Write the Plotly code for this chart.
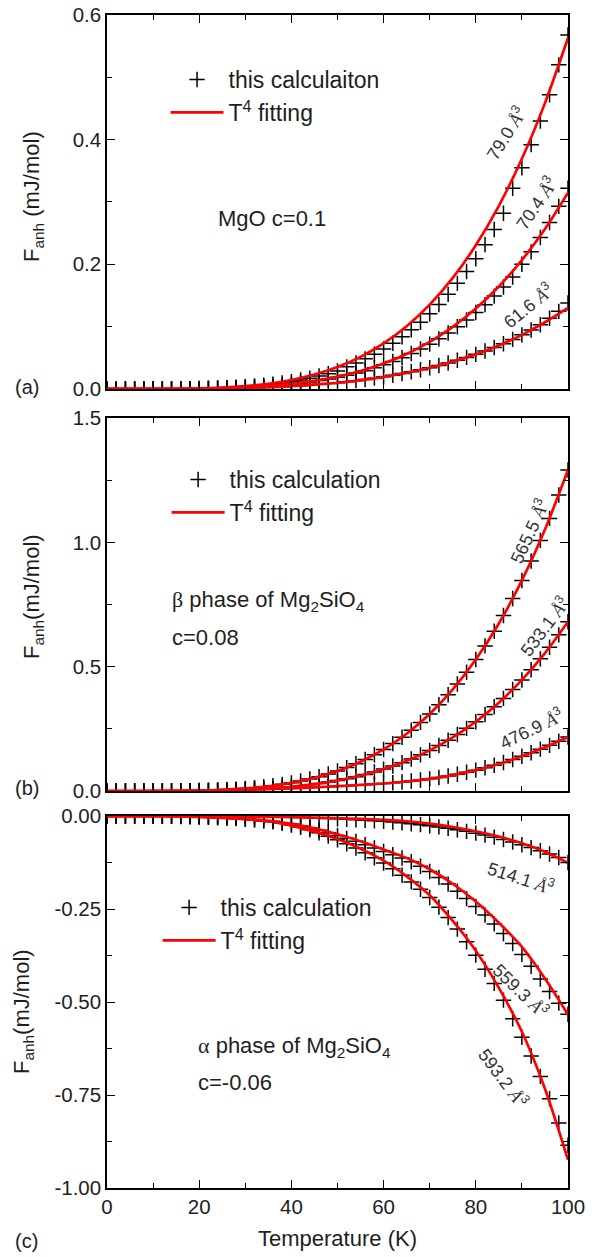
import plotly.graph_objects as go

# ---------------- data ----------------
temp_calc = [0, 2, 4, 6, 8, 10, 12, 14, 16, 18, 20, 22, 24, 26, 28, 30, 32, 34, 36, 38,
             40, 42, 44, 46, 48, 50, 52, 54, 56, 58, 60, 62, 64, 66, 68, 70, 72, 74, 76, 78,
             80, 82, 84, 86, 88, 90, 92, 94, 96, 98, 100]
temp_fit = [0, 5, 10, 15, 20, 25, 30, 35, 40, 45, 50, 55, 60, 65, 70, 75, 80, 85, 90, 95, 100]

# (a) MgO, c = 0.1
mgo_790_calc = [0, 0, 0, 0, 0, 0.0001, 0.0001, 0.0002, 0.0003, 0.0005, 0.0007, 0.0011, 0.0016, 0.0021,
                0.0029, 0.0038, 0.0048, 0.0062, 0.0078, 0.0096, 0.0118, 0.0144, 0.0173, 0.0207, 0.0245,
                0.0289, 0.0355, 0.0416, 0.0483, 0.0558, 0.0642, 0.0734, 0.0836, 0.0948, 0.1071, 0.1206,
                0.1356, 0.1518, 0.1694, 0.1885, 0.2090, 0.2315, 0.2558, 0.2820, 0.3220, 0.3550, 0.3920,
                0.4300, 0.4720, 0.5200, 0.5680]
mgo_790_fit = [0, 0, 0.0001, 0.0003, 0.0009, 0.0022, 0.0046, 0.0084, 0.0144, 0.0231, 0.0352, 0.0515,
               0.0730, 0.1005, 0.1352, 0.1781, 0.2306, 0.2939, 0.3694, 0.4586, 0.5630]
mgo_704_calc = [0, 0, 0, 0, 0, 0, 0.0001, 0.0001, 0.0002, 0.0003, 0.0005, 0.0007, 0.0010, 0.0014,
                0.0019, 0.0024, 0.0031, 0.0040, 0.0050, 0.0062, 0.0077, 0.0093, 0.0112, 0.0134, 0.0159,
                0.0187, 0.0219, 0.0254, 0.0294, 0.0339, 0.0388, 0.0442, 0.0502, 0.0568, 0.0640, 0.0719,
                0.0804, 0.0897, 0.0998, 0.1108, 0.1226, 0.1353, 0.1490, 0.1637, 0.1795, 0.2000, 0.2200,
                0.2430, 0.2670, 0.2930, 0.3220]
mgo_704_fit = [0, 0, 0, 0.0002, 0.0005, 0.0012, 0.0026, 0.0047, 0.0081, 0.0129, 0.0197, 0.0288,
               0.0408, 0.0562, 0.0756, 0.0997, 0.1290, 0.1644, 0.2067, 0.2566, 0.3150]
mgo_616_calc = [0, 0, 0, 0, 0, 0.0001, 0.0001, 0.0002, 0.0002, 0.0003, 0.0004, 0.0006, 0.0007, 0.0010,
                0.0012, 0.0015, 0.0019, 0.0024, 0.0030, 0.0036, 0.0044, 0.0053, 0.0063, 0.0074, 0.0086,
                0.0100, 0.0116, 0.0133, 0.0152, 0.0173, 0.0195, 0.0220, 0.0247, 0.0276, 0.0307, 0.0340,
                0.0377, 0.0417, 0.0460, 0.0506, 0.0555, 0.0608, 0.0665, 0.0726, 0.0795, 0.0868, 0.0946,
                0.1030, 0.1135, 0.1245, 0.1380]
mgo_616_fit = [0, 0, 0.0001, 0.0002, 0.0004, 0.0008, 0.0015, 0.0027, 0.0044, 0.0068, 0.0100, 0.0142,
               0.0195, 0.0260, 0.0340, 0.0438, 0.0555, 0.0697, 0.0868, 0.1070, 0.1300]

# (b) beta-Mg2SiO4, c = 0.08
beta_5655_calc = [0, 0, 0, 0, 0.0001, 0.0001, 0.0003, 0.0005, 0.0008, 0.0014, 0.0021, 0.0030, 0.0043,
                  0.0059, 0.0079, 0.0105, 0.0135, 0.0173, 0.0217, 0.0269, 0.0330, 0.0402, 0.0484, 0.0578,
                  0.0685, 0.0807, 0.0944, 0.1098, 0.1270, 0.1461, 0.1673, 0.1908, 0.2166, 0.2450, 0.2760,
                  0.3100, 0.3469, 0.3871, 0.4307, 0.4779, 0.5288, 0.5837, 0.6428, 0.7062, 0.7742, 0.8470,
                  0.9249, 1.0079, 1.0965, 1.1908, 1.2910]
beta_5655_fit = [0, 0, 0.0001, 0.0007, 0.0021, 0.0050, 0.0105, 0.0194, 0.0330, 0.0529, 0.0807, 0.1181,
                 0.1673, 0.2304, 0.3100, 0.4085, 0.5288, 0.6739, 0.8470, 1.0515, 1.2910]
beta_5331_calc = [0, 0, 0, 0, 0, 0.0001, 0.0001, 0.0003, 0.0004, 0.0007, 0.0011, 0.0016, 0.0023, 0.0031,
                  0.0042, 0.0055, 0.0071, 0.0091, 0.0114, 0.0142, 0.0174, 0.0212, 0.0255, 0.0305, 0.0362,
                  0.0426, 0.0498, 0.0579, 0.0670, 0.0771, 0.0883, 0.1006, 0.1143, 0.1292, 0.1456, 0.1635,
                  0.1830, 0.2042, 0.2272, 0.2521, 0.2789, 0.3079, 0.3391, 0.3725, 0.4084, 0.4468, 0.4879,
                  0.5317, 0.5784, 0.6281, 0.6810]
beta_5331_fit = [0, 0, 0.0001, 0.0003, 0.0011, 0.0027, 0.0055, 0.0102, 0.0174, 0.0279, 0.0426, 0.0623,
                 0.0883, 0.1216, 0.1635, 0.2155, 0.2789, 0.3555, 0.4468, 0.5547, 0.6810]
beta_4769_calc = [0, 0, 0.0001, 0.0002, 0.0003, 0.0004, 0.0006, 0.0008, 0.0011, 0.0015, 0.0020, 0.0026,
                  0.0032, 0.0039, 0.0046, 0.0055, 0.0065, 0.0075, 0.0086, 0.0098, 0.0110, 0.0125, 0.0141,
                  0.0159, 0.0177, 0.0195, 0.0215, 0.0235, 0.0257, 0.0280, 0.0305, 0.0335, 0.0367, 0.0404,
                  0.0445, 0.0490, 0.0546, 0.0608, 0.0676, 0.0755, 0.0840, 0.0935, 0.1037, 0.1148, 0.1270,
                  0.1400, 0.1540, 0.1685, 0.1838, 0.2000, 0.2175]
beta_4769_fit = [0, 0.0001, 0.0004, 0.0010, 0.0020, 0.0035, 0.0055, 0.0080, 0.0110, 0.0150, 0.0195,
                 0.0245, 0.0305, 0.0385, 0.0490, 0.0640, 0.0840, 0.1090, 0.1400, 0.1760, 0.2175]

# (c) alpha-Mg2SiO4, c = -0.06
alpha_5141_calc = [0, 0, 0, 0, 0, 0, -0.0001, -0.0001, -0.0002, -0.0003, -0.0005, -0.0006, -0.0008,
                   -0.0011, -0.0013, -0.0016, -0.0019, -0.0022, -0.0026, -0.0030, -0.0035, -0.0041,
                   -0.0048, -0.0056, -0.0065, -0.0075, -0.0086, -0.0098, -0.0112, -0.0127, -0.0143,
                   -0.0162, -0.0183, -0.0206, -0.0232, -0.0260, -0.0292, -0.0328, -0.0368, -0.0412,
                   -0.0460, -0.0512, -0.0568, -0.0630, -0.0698, -0.0770, -0.0848, -0.0932, -0.1020,
                   -0.1115, -0.1250]
alpha_5141_fit = [0, 0, 0, -0.0002, -0.0005, -0.0010, -0.0015, -0.0021, -0.0030, -0.0042, -0.0058,
                  -0.0078, -0.0104, -0.0140, -0.0205, -0.0295, -0.0410, -0.0555, -0.0730, -0.0960, -0.1260]
alpha_5593_calc = [0, 0, 0, -0.0001, -0.0002, -0.0003, -0.0005, -0.0008, -0.0012, -0.0018, -0.0025,
                   -0.0034, -0.0044, -0.0056, -0.0070, -0.0086, -0.0104, -0.0125, -0.0150, -0.0180,
                   -0.0215, -0.0260, -0.0315, -0.0380, -0.0450, -0.0525, -0.0600, -0.0680, -0.0770,
                   -0.0860, -0.0950, -0.1040, -0.1130, -0.1230, -0.1350, -0.1490, -0.1650, -0.1830,
                   -0.2020, -0.2220, -0.2430, -0.2660, -0.2900, -0.3160, -0.3430, -0.3720, -0.4040,
                   -0.4380, -0.4720, -0.5030, -0.5330]
alpha_5593_fit = [0, 0, -0.0003, -0.0010, -0.0025, -0.0050, -0.0085, -0.0135, -0.0205, -0.0330, -0.0490,
                  -0.0680, -0.0900, -0.1130, -0.1430, -0.1820, -0.2300, -0.2870, -0.3520, -0.4370, -0.5340]
alpha_5932_calc = [0, 0, 0, -0.0001, -0.0001, -0.0002, -0.0004, -0.0006, -0.0009, -0.0013, -0.0019,
                   -0.0026, -0.0034, -0.0044, -0.0056, -0.0072, -0.0092, -0.0118, -0.0150, -0.0190,
                   -0.0240, -0.0300, -0.0370, -0.0450, -0.0540, -0.0640, -0.0745, -0.0860, -0.0985,
                   -0.1120, -0.1265, -0.1420, -0.1590, -0.1770, -0.1970, -0.2190, -0.2450, -0.2730,
                   -0.3040, -0.3380, -0.3740, -0.4120, -0.4500, -0.4950, -0.5450, -0.5950, -0.6450,
                   -0.7000, -0.7600, -0.8250, -0.8850]
alpha_5932_fit = [0, 0, -0.0002, -0.0008, -0.0020, -0.0040, -0.0075, -0.0135, -0.0260, -0.0420, -0.0620,
                  -0.0880, -0.1200, -0.1620, -0.2130, -0.2820, -0.3620, -0.4620, -0.5800, -0.7330, -0.9240]

# ticks
x_ticks = [0, 20, 40, 60, 80, 100]
x_ticktext = ["0", "20", "40", "60", "80", "100"]
x_minor = [10, 30, 50, 70, 90]
ya_ticks = [0.0, 0.2, 0.4, 0.6]
ya_text = ["0.0", "0.2", "0.4", "0.6"]
ya_minor = [0.1, 0.3, 0.5]
yb_ticks = [0.0, 0.5, 1.0, 1.5]
yb_text = ["0.0", "0.5", "1.0", "1.5"]
yb_minor = [0.25, 0.75, 1.25]
yc_ticks = [-1.0, -0.75, -0.5, -0.25, 0.0]
yc_text = ["-1.00", "-0.75", "-0.50", "-0.25", "0.00"]
yc_minor = [-0.875, -0.625, -0.375, -0.125]

# ---------------- figure ----------------
FONT = "Liberation Sans, Arial, Helvetica, sans-serif"
TXT = "#1e1e1e"

fig = go.Figure()

panels = [
    ("x", "y", "legend", "this calculaiton",
     [mgo_790_calc, mgo_704_calc, mgo_616_calc], [mgo_790_fit, mgo_704_fit, mgo_616_fit]),
    ("x2", "y2", "legend2", "this calculation",
     [beta_5655_calc, beta_5331_calc, beta_4769_calc], [beta_5655_fit, beta_5331_fit, beta_4769_fit]),
    ("x3", "y3", "legend3", "this calculation",
     [alpha_5141_calc, alpha_5593_calc, alpha_5932_calc], [alpha_5141_fit, alpha_5593_fit, alpha_5932_fit]),
]

for xa, ya, lg, calc_name, calcs, fits in panels:
    for i, vals in enumerate(calcs):
        fig.add_trace(go.Scatter(
            x=temp_calc, y=vals, xaxis=xa, yaxis=ya, mode="markers",
            marker=dict(symbol="cross-thin", size=11, color="black",
                        line=dict(color="black", width=1.5)),
            name=calc_name, legend=lg, showlegend=(i == 0), legendrank=1))
    for i, vals in enumerate(fits):
        fig.add_trace(go.Scatter(
            x=temp_fit, y=vals, xaxis=xa, yaxis=ya, mode="lines",
            line=dict(color="#ff0000", width=2.7, shape="spline", smoothing=0.8),
            name="T<sup>4</sup> fitting", legend=lg, showlegend=(i == 0), legendrank=2))

# domains (paper fractions)
dom_a = [0.6812, 1.0]
dom_b = [0.3384, 0.6564]
dom_c = [0.0, 0.3171]
TICKSIZE = 20.5

def xaxis(anchor, show_labels):
    return dict(range=[0, 100], domain=[0, 1], anchor=anchor, automargin=False,
                showline=True, linecolor="black", linewidth=1.5, mirror="ticks",
                ticks="inside", ticklen=8, tickwidth=1.3, tickcolor="black",
                tickmode="array", tickvals=x_ticks, ticktext=x_ticktext,
                minor=dict(tickmode="array", tickvals=x_minor, ticks="inside",
                           ticklen=5, tickwidth=1.3, tickcolor="black"),
                showticklabels=show_labels, showgrid=False, zeroline=False,
                tickfont=dict(family=FONT, size=TICKSIZE, color=TXT))

def yaxis(anchor, dom, rng, tv, tt, mv):
    return dict(range=rng, domain=dom, anchor=anchor, automargin=False,
                showline=True, linecolor="black", linewidth=1.5, mirror="ticks",
                ticks="inside", ticklen=8, tickwidth=1.3, tickcolor="black",
                tickmode="array", tickvals=tv, ticktext=tt,
                minor=dict(tickmode="array", tickvals=mv, ticks="inside",
                           ticklen=5, tickwidth=1.3, tickcolor="black"),
                showgrid=False, zeroline=False,
                tickfont=dict(family=FONT, size=TICKSIZE, color=TXT))

xa3 = xaxis("y3", True)
xa3["title"] = dict(text="Temperature (K)", font=dict(family=FONT, size=22, color=TXT), standoff=13)

legend_common = dict(xanchor="left", yanchor="top", bgcolor="rgba(0,0,0,0)", borderwidth=0,
                     font=dict(family=FONT, size=23, color=TXT), itemwidth=53,
                     traceorder="normal", tracegroupgap=0)

fig.update_layout(
    width=597, height=1257,
    margin=dict(l=107, r=29, t=15, b=69, autoexpand=False),
    paper_bgcolor="white", plot_bgcolor="white",
    font=dict(family=FONT, size=20, color=TXT),
    xaxis=xaxis("y", False),
    xaxis2=xaxis("y2", False),
    xaxis3=xa3,
    yaxis=yaxis("x", dom_a, [0, 0.6], ya_ticks, ya_text, ya_minor),
    yaxis2=yaxis("x2", dom_b, [0, 1.5], yb_ticks, yb_text, yb_minor),
    yaxis3=yaxis("x3", dom_c, [-1.0, 0.0], yc_ticks, yc_text, yc_minor),
    legend=dict(x=0.127, y=0.9633, **legend_common),
    legend2=dict(x=0.1293, y=0.6223, **legend_common),
    legend3=dict(x=0.1098, y=0.2575, **legend_common),
    showlegend=True,
)

ann = []
def text(x, y, s, xref, yref, size=22, angle=0, xanchor="left", color=TXT):
    ann.append(dict(x=x, y=y, xref=xref, yref=yref, text=s, showarrow=False, textangle=angle,
                    xanchor=xanchor, yanchor="middle",
                    font=dict(family=FONT, size=size, color=color)))

# y-axis titles
text(-0.1605, 0.8448, "F<sub>anh</sub> (mJ/mol)", "paper", "paper", size=22, angle=-90, xanchor="center")
text(-0.1605, 0.5038, "F<sub>anh</sub>(mJ/mol)", "paper", "paper", size=22, angle=-90, xanchor="center")
text(-0.1822, 0.1500, "F<sub>anh</sub>(mJ/mol)", "paper", "paper", size=22, angle=-90, xanchor="center")

# panel letters
text(-0.1735, 0.6829, "(a)", "paper", "paper", size=20, xanchor="center")
text(-0.1735, 0.3410, "(b)", "paper", "paper", size=20, xanchor="center")
text(-0.1757, -0.0452, "(c)", "paper", "paper", size=20, xanchor="center")

# in-panel descriptions
text(23.6, 0.274, "MgO c=0.1", "x", "y")
text(13.7, 0.765, "<span style=\"font-family:'Liberation Serif'\">β</span> phase of Mg<sub>2</sub>SiO<sub>4</sub>", "x2", "y2")
text(13.7, 0.619, "c=0.08", "x2", "y2")
text(19.3, -0.622, "<span style=\"font-family:'Liberation Serif'\">α</span> phase of Mg<sub>2</sub>SiO<sub>4</sub>", "x3", "y3")
text(19.3, -0.716, "c=-0.06", "x3", "y3")

# volume labels
def vol(v):
    return v + " <span style=\"font-family:'Liberation Serif'\"><i>Å</i></span><sup>3</sup>"

LBL = "#333333"
text(86.5, 0.410, vol("79.0"), "x", "y", size=18, angle=-58, xanchor="center", color=LBL)
text(93.0, 0.298, vol("70.4"), "x", "y", size=18, angle=-56, xanchor="center", color=LBL)
text(91.3, 0.134, vol("61.6"), "x", "y", size=18, angle=-39, xanchor="center", color=LBL)
text(91.5, 1.045, vol("565.5"), "x2", "y2", size=18, angle=-65, xanchor="center", color=LBL)
text(94.8, 0.663, vol("533.1"), "x2", "y2", size=18, angle=-53, xanchor="center", color=LBL)
text(92.0, 0.253, vol("476.9"), "x2", "y2", size=18, angle=-26, xanchor="center", color=LBL)
text(89.8, -0.164, vol("514.1"), "x3", "y3", size=18, angle=18, xanchor="center", color=LBL)
text(89.8, -0.468, vol("559.3"), "x3", "y3", size=18, angle=44, xanchor="center", color=LBL)
text(85.9, -0.704, vol("593.2"), "x3", "y3", size=18, angle=53, xanchor="center", color=LBL)

fig.update_layout(annotations=ann)

fig.write_html("out.html", config={"displayModeBar": False},
               post_script="document.body.style.margin='0px';")
